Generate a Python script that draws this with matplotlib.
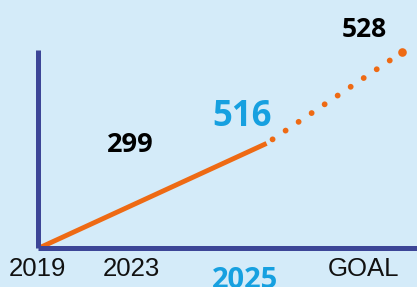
import matplotlib
matplotlib.use("Agg")
import matplotlib.pyplot as plt

# stylised timeline (x in years-ish units, y as relative height)
solid_x = [0.0, 6.0]
solid_y = [0.0, 0.527]
goal_x = [6.0, 9.6]
goal_y = [0.527, 0.99]

tick_labels = ["2019", "2023", "2025", "GOAL"]
tick_pos = [-0.07, 2.42, 5.42, 8.57]

value_labels = ["299", "516", "528"]
value_x = [2.4, 5.36, 8.6]
value_y = [0.484, 0.615, 1.066]

bg = "#d4ebf9"
navy = "#3c4597"
orange = "#ee6a14"
blue = "#16a0e0"

fig = plt.figure(figsize=(4.17, 2.87), dpi=100, facecolor=bg)
W, H = 417, 287
ax = fig.add_axes([37.5 / W, 39.5 / H, 379.5 / W, 197.5 / H])
ax.set_facecolor(bg)
ax.set_xlim(0, 379.5 / 38)
ax.set_ylim(0, 1)

for s in ["top", "right"]:
    ax.spines[s].set_visible(False)
for s in ["left", "bottom"]:
    ax.spines[s].set_color(navy)
    ax.spines[s].set_linewidth(3.6)
    ax.spines[s].set_capstyle("butt")

ax.plot(solid_x, solid_y, color=orange, lw=3.5, solid_capstyle="butt", zorder=2)
ax.plot(goal_x, goal_y, color=orange, lw=4.2,
        linestyle=(1.45, (0.01, 2.68)), dash_capstyle="round", clip_on=False)
ax.plot(goal_x[-1], goal_y[-1], "o", color=orange, ms=6.2, mew=0, clip_on=False)

ax.set_yticks([])
ax.set_xticks(tick_pos, tick_labels)
ax.tick_params(axis="x", length=0, pad=6.8)
for lab in ax.get_xticklabels():
    lab.set_fontfamily("Liberation Sans")
    lab.set_fontsize(18.5)
    lab.set_color("#111111")
hl = ax.get_xticklabels()[2]
hl.set_fontfamily("Open Sans")
hl.set_fontweight("bold")
hl.set_fontsize(21)
hl.set_color(blue)
ax.xaxis.get_major_ticks()[2].set_pad(13.5)

colors = ["black", blue, "black"]
sizes = [19.5, 25, 19]
for t, x, y, c, fs in zip(value_labels, value_x, value_y, colors, sizes):
    ax.text(x, y, t, ha="center", va="baseline", color=c, fontsize=fs,
            fontweight="bold", fontfamily="Open Sans", clip_on=False)

fig.savefig("out.png", dpi=100, facecolor=bg)
